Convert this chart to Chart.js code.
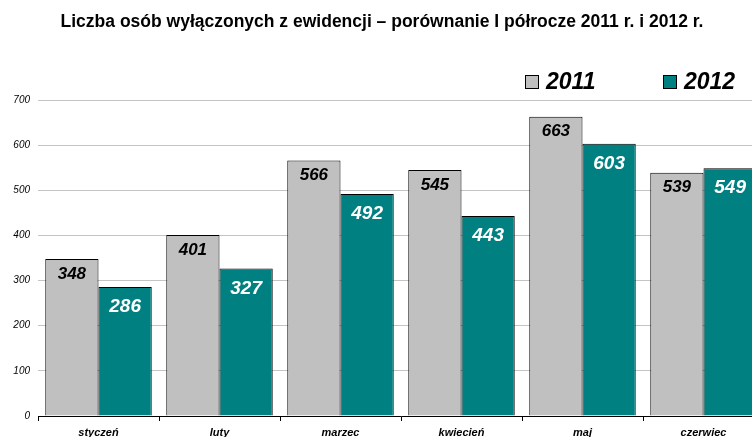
<!DOCTYPE html>
<html>
<head>
<meta charset="utf-8">
<script src="https://cdn.jsdelivr.net/npm/chart.js@4"></script>
<style>
  html, body { margin: 0; padding: 0; background: #fff; overflow: hidden; }
  #wrap { width: 766px; height: 437px; position: relative; }
</style>
</head>
<body>
<div id="wrap"><canvas id="chart_osoby"></canvas></div>
<script>
var months = ['styczeń', 'luty', 'marzec', 'kwiecień', 'maj', 'czerwiec'];
var values2011 = [348, 401, 566, 545, 663, 539];
var values2012 = [286, 327, 492, 443, 603, 549];
var yTicks = [0, 100, 200, 300, 400, 500, 600, 700];

var FONT = "'Liberation Sans', Arial, sans-serif";

// value labels inside the top of each bar
var barLabels = {
    id: 'barLabels',
    afterDatasetsDraw: function (chart) {
        var ctx = chart.ctx;
        ctx.save();
        ctx.textAlign = 'center';
        ctx.textBaseline = 'middle';
        chart.data.datasets.forEach(function (ds, i) {
            var meta = chart.getDatasetMeta(i);
            ctx.font = 'italic bold ' + (i === 0 ? 17 : 19) + 'px ' + FONT;
            ctx.fillStyle = i === 0 ? '#000' : '#fff';
            meta.data.forEach(function (bar, j) {
                ctx.fillText(String(ds.data[j]), bar.x, bar.y + (i === 0 ? 15 : 20));
            });
        });
        ctx.restore();
    }
};

// legend in the upper right corner
var cornerLegend = {
    id: 'cornerLegend',
    afterDraw: function (chart) {
        var ctx = chart.ctx;
        var xs = [525, 663];
        ctx.save();
        ctx.font = 'italic bold 23px ' + FONT;
        ctx.textBaseline = 'middle';
        chart.data.datasets.forEach(function (ds, i) {
            ctx.fillStyle = ds.backgroundColor;
            ctx.strokeStyle = '#000';
            ctx.lineWidth = 1;
            ctx.fillRect(xs[i], 75, 14, 14);
            ctx.strokeRect(xs[i] + 0.5, 75.5, 13, 13);
            ctx.fillStyle = '#000';
            ctx.fillText(ds.label, xs[i] + 21, 83);
        });
        ctx.restore();
    }
};

var chart_osoby = new Chart(document.getElementById('chart_osoby'), {
    type: 'bar',
    data: {
        labels: months,
        datasets: [
            {
                label: '2011',
                data: values2011,
                backgroundColor: '#c0c0c0',
                borderColor: '#000',
                borderWidth: 1,
                categoryPercentage: 0.88,
                barPercentage: 1
            },
            {
                label: '2012',
                data: values2012,
                backgroundColor: '#008080',
                borderColor: '#000',
                borderWidth: 1,
                categoryPercentage: 0.88,
                barPercentage: 1
            }
        ]
    },
    options: {
        animation: false,
        responsive: true,
        maintainAspectRatio: false,
        layout: { padding: { left: 0, right: 2, top: 0, bottom: 0 } },
        plugins: {
            legend: { display: false },
            tooltip: { enabled: false },
            title: {
                display: true,
                text: 'Liczba osób wyłączonych z ewidencji – porównanie I półrocze 2011 r. i 2012 r.',
                color: '#000',
                font: { family: FONT, size: 17.5, weight: 'bold' },
                padding: { top: 12, bottom: 67 }
            }
        },
        scales: {
            x: {
                afterFit: function (s) { s.height = 21; },
                grid: { drawOnChartArea: false, drawTicks: true, tickLength: 5, color: '#000' },
                border: { color: '#000' },
                ticks: {
                    color: '#000',
                    padding: 5,
                    font: { family: FONT, size: 11, style: 'italic', weight: 'bold' }
                }
            },
            y: {
                min: 0,
                max: 700,
                afterBuildTicks: function (s) { s.ticks = yTicks.map(function (v) { return { value: v }; }); },
                afterFit: function (s) { s.width = 38; },
                grid: { color: '#c4c4c4', drawTicks: false },
                border: { display: false },
                ticks: {
                    color: '#000',
                    padding: 8,
                    font: { family: FONT, size: 10, style: 'italic' }
                }
            }
        }
    },
    plugins: [barLabels, cornerLegend]
});
</script>
</body>
</html>
